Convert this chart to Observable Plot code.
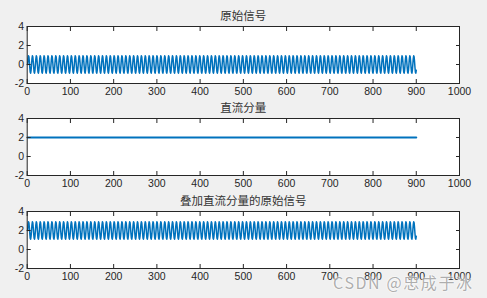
<!DOCTYPE html>
<html><head><meta charset="utf-8">
<script src="https://cdn.jsdelivr.net/npm/d3@7"></script>
<script src="https://cdn.jsdelivr.net/npm/@observablehq/plot@0.6"></script>
<style>
html,body{margin:0;padding:0;background:#f0f0f0;}
#wrap{position:relative;width:487px;height:298px;overflow:hidden;background:#f0f0f0;}
#wrap svg{position:absolute;left:0;overflow:visible;}
#wm{position:absolute;left:333px;top:272px;font-family:"Noto Sans CJK SC","Liberation Sans",sans-serif;font-size:16px;letter-spacing:1.6px;color:rgba(120,120,120,0.6);text-shadow:0 0 2px #fff,0 0 2px #fff;white-space:nowrap;line-height:20px;}
</style></head>
<body><div id="wrap"><div id="wm">CSDN @忠成于冰</div></div>
<script>
// Chart content
const titles = ["原始信号", "直流分量", "叠加直流分量的原始信号"];
const xTicks = [0, 100, 200, 300, 400, 500, 600, 700, 800, 900, 1000];
const yTicks = [-2, 0, 2, 4];
const xDomain = [0, 1000];
const yDomain = [-2, 4];
// One period of the original signal (samples), repeated over the record
const cycle = [0, 0.60, 0.92, 0.81, 0.32, -0.32, -0.81, -0.92, -0.60];
const nSamples = 900;
const dcLevel = 2;

const original = [];
for (let i = 0; i < nSamples; i++) original.push({x: i + 1, y: cycle[i % cycle.length]});
const dc = original.map(d => ({x: d.x, y: dcLevel}));
const combined = original.map(d => ({x: d.x, y: d.y + dcLevel}));

const series = [original, dc, combined];
const widths = [1.5, 2, 1.5];
const tops = [0, 92.3, 184.7];
const blue = "#0072BD";
const axisColor = "#262626";
const fmt = d => String(d);

const wrap = document.getElementById("wrap");
series.forEach((data, k) => {
  const svg = Plot.plot({
    width: 487,
    height: 99,
    marginLeft: 26.7,
    marginRight: 28,
    marginTop: 26,
    marginBottom: 16,
    x: {domain: xDomain},
    y: {domain: yDomain},
    style: {fontFamily: "'Liberation Sans', Arial, sans-serif", fontSize: "10.5px", color: axisColor, background: "transparent", overflow: "visible"},
    marks: [
      Plot.frame({fill: "white"}),
      Plot.line(data, {x: "x", y: "y", stroke: blue, strokeWidth: widths[k]}),
      Plot.axisX(xTicks, {anchor: "bottom", tickSize: 0, tickPadding: 4, label: null, fill: axisColor, tickFormat: fmt}),
      Plot.axisX(xTicks, {anchor: "bottom", tickSize: -4, fill: "none", label: null, stroke: axisColor}),
      Plot.axisX(xTicks, {anchor: "top", tickSize: -4, fill: "none", label: null, stroke: axisColor}),
      Plot.axisY(yTicks, {anchor: "left", tickSize: 0, tickPadding: 3, label: null, fill: axisColor, tickFormat: fmt}),
      Plot.axisY(yTicks, {anchor: "left", tickSize: -4, fill: "none", label: null, stroke: axisColor}),
      Plot.axisY(yTicks, {anchor: "right", tickSize: -4, fill: "none", label: null, stroke: axisColor}),
      Plot.frame({stroke: axisColor, strokeWidth: 1}),
      Plot.text([titles[k]], {frameAnchor: "top", dy: -10, lineAnchor: "middle", fontSize: 11.5, fontFamily: "'Noto Sans CJK SC', sans-serif", fill: "#333"})
    ]
  });
  svg.style.top = tops[k] + "px";
  wrap.insertBefore(svg, document.getElementById("wm"));
});
</script>
</body></html>
